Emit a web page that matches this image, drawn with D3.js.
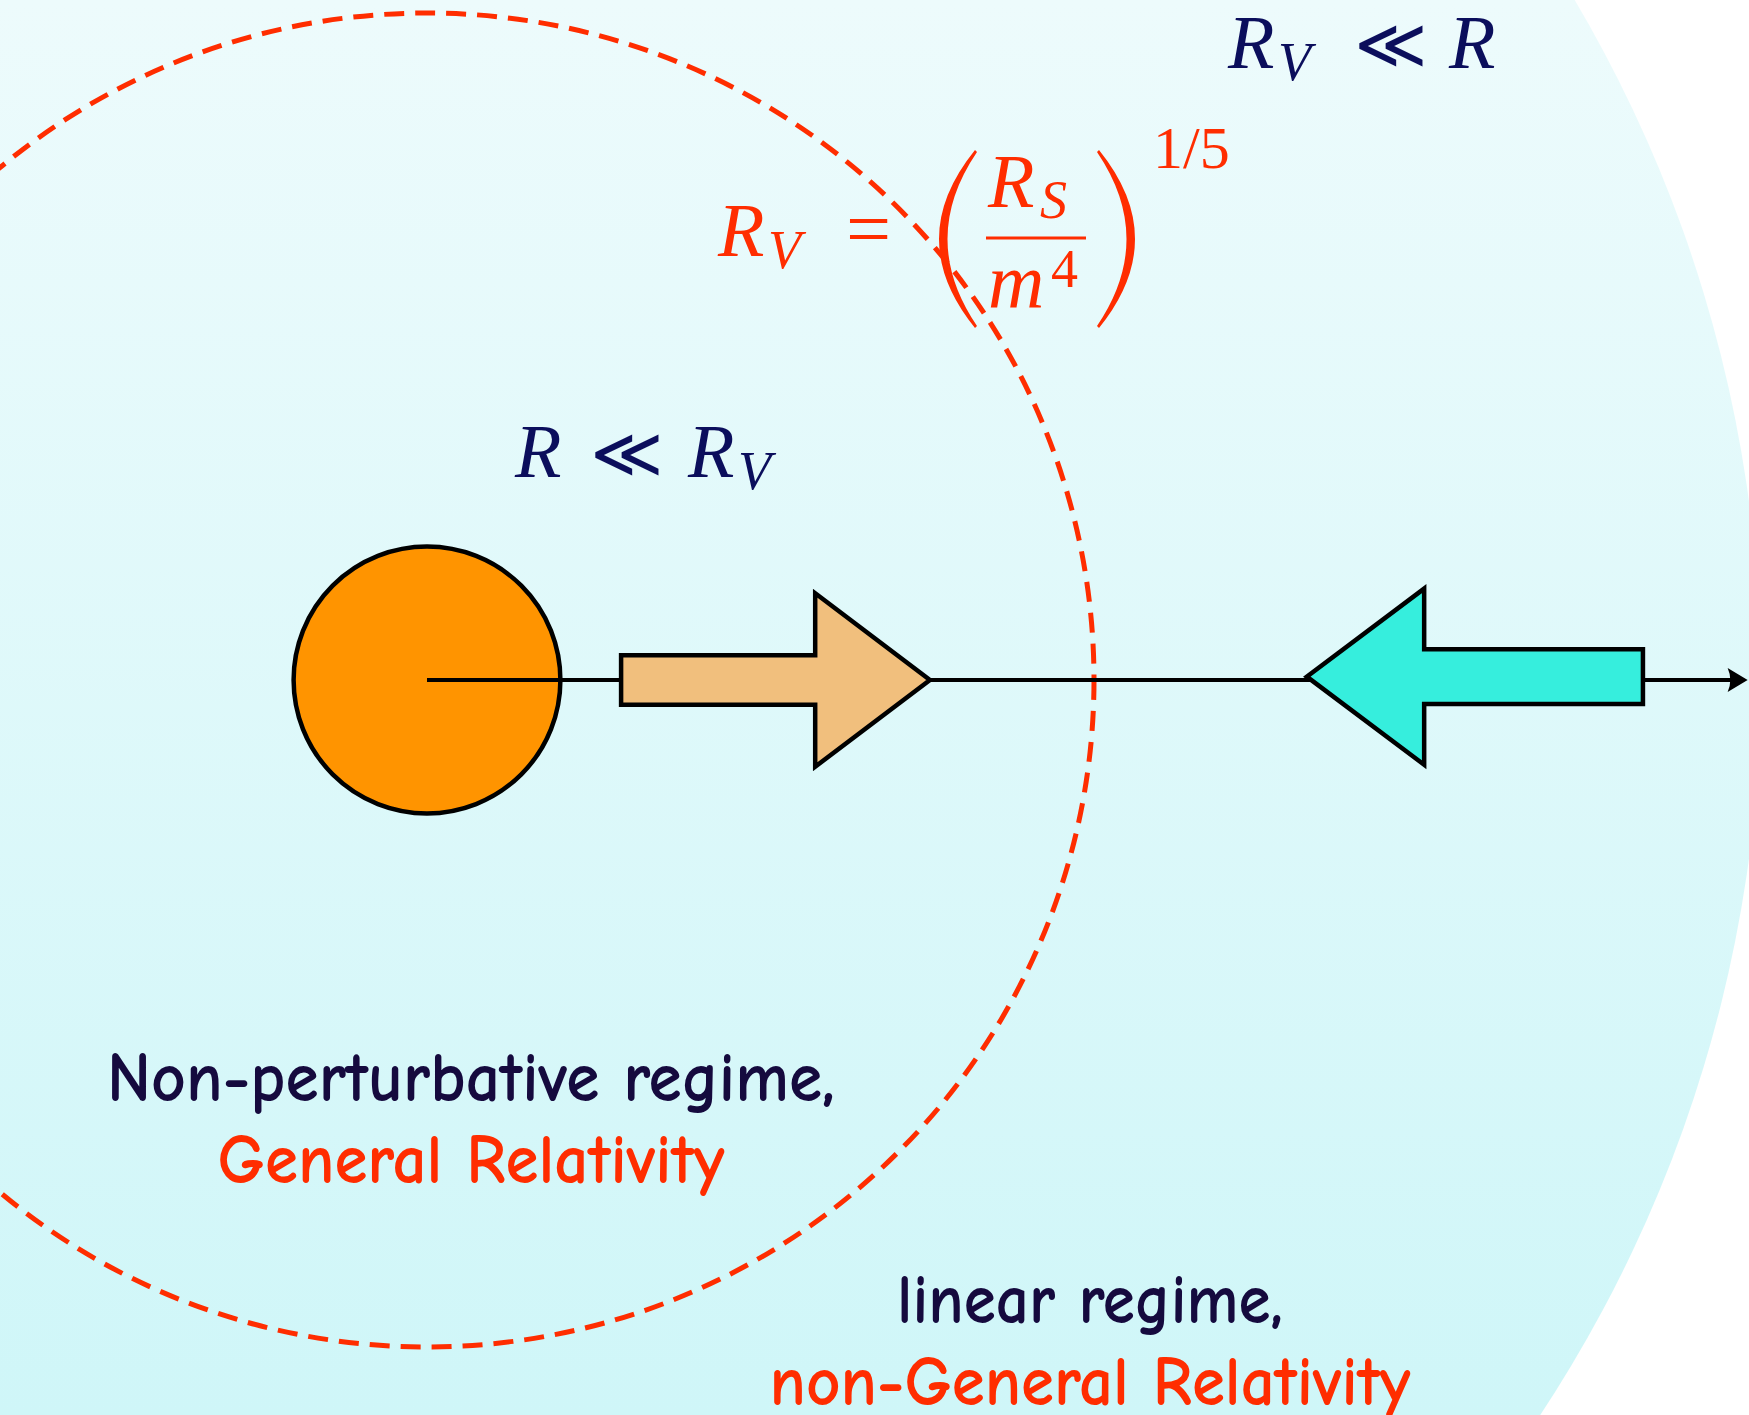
<!DOCTYPE html>
<html lang="en">
<head>
    <meta charset="UTF-8">
    <title>Vainshtein radius</title>
    <script src="https://cdn.jsdelivr.net/npm/d3@7"></script>
    <style>
        body { margin: 0; background: #fff; }
        svg { display: block; }
    </style>
</head>
<body>
<div id="chart-space"></div>
<script>
    // radii in units of the Vainshtein radius R_V
    var regionNames = ["linear", "vainshtein", "body"];
    var regionRadii = [2.0, 1.0, 0.2];

    // the two force arrows along the radial axis (units of R_V)
    var arrowNames = ["outward", "inward"];
    var arrowTail = [0.291, 1.823];
    var arrowNeck = [0.582, 1.495];
    var arrowTip = [0.754, 1.319];
    var arrowShaft = [0.037, 0.041];
    var arrowHead = [0.130, 0.132];
    var arrowLift = [0, 0.005];
    var arrowFill = ["#f1bf7d", "#36eedd"];

    var axisEnd = 1.98;

    var regimeLabels = ["Non-perturbative regime,", "linear regime,"];
    var theoryLabels = ["General Relativity", "non-General Relativity"];
    var regimeWidths = [728, 386];
    var theoryWidths = [507, 641];

    var width = 1749;
    var height = 1415;

    var x = d3.scaleLinear().domain([0, 1]).range([427, 1094]);
    var y = d3.scaleLinear().domain([-1, 1]).range([680 + 667, 680 - 667]);
    var r = d3.scaleLinear().domain([0, 1]).range([0, 667]);

    var navy = "#0b0e5c";
    var ink = "#150a3e";
    var red = "#ff2d00";

    var svg = d3.select("#chart-space")
                .append("svg")
                .attr("width", width)
                .attr("height", height);

    var defs = svg.append("defs");
    var grad = defs.append("linearGradient")
                   .attr("id", "sky")
                   .attr("gradientUnits", "userSpaceOnUse")
                   .attr("x1", 0).attr("y1", 0)
                   .attr("x2", 0).attr("y2", height);
    grad.append("stop").attr("offset", 0).attr("stop-color", "#edfbfc");
    grad.append("stop").attr("offset", 1).attr("stop-color", "#cff6f8");

    svg.append("rect").attr("width", width).attr("height", height).attr("fill", "#fff");

    // linear regime region
    svg.append("circle")
       .attr("cx", x(0)).attr("cy", y(0))
       .attr("r", r(regionRadii[0]))
       .attr("fill", "url(#sky)");

    // Vainshtein sphere
    svg.append("circle")
       .attr("cx", x(0)).attr("cy", y(0))
       .attr("r", r(regionRadii[1]))
       .attr("fill", "none")
       .attr("stroke", red)
       .attr("stroke-width", 5)
       .attr("stroke-dasharray", "20 11");

    // the body
    svg.append("circle")
       .attr("cx", x(0)).attr("cy", y(0))
       .attr("r", r(regionRadii[2]))
       .attr("fill", "#ff9400")
       .attr("stroke", "#000")
       .attr("stroke-width", 4.5);

    // radial axis
    svg.append("line")
       .attr("x1", x(0)).attr("y1", y(0))
       .attr("x2", x(axisEnd) - 6).attr("y2", y(0))
       .attr("stroke", "#000")
       .attr("stroke-width", 4);

    var tipX = x(axisEnd), a = r(0.018);
    svg.append("path")
       .attr("d", "M" + tipX + "," + y(0) +
                  " L" + (tipX - r(0.03)) + "," + (y(0) - a) +
                  " Q" + (tipX - r(0.022)) + "," + y(0) + " " + (tipX - r(0.03)) + "," + (y(0) + a) + " Z")
       .attr("fill", "#000");

    // force arrows
    var arrows = arrowNames.map(function(n, i) {
        return {name: n, tail: arrowTail[i], neck: arrowNeck[i], tip: arrowTip[i],
                s: arrowShaft[i], h: arrowHead[i], lift: arrowLift[i], fill: arrowFill[i]};
    });

    svg.selectAll("polygon.arrow")
       .data(arrows)
       .join("polygon")
       .attr("class", "arrow")
       .attr("points", function(d) {
           var pts = [[d.tail, d.s], [d.neck, d.s], [d.neck, d.h], [d.tip, 0],
                      [d.neck, -d.h], [d.neck, -d.s], [d.tail, -d.s]];
           return pts.map(function(p) { return x(p[0]) + "," + y(p[1] + d.lift); }).join(" ");
       })
       .attr("fill", function(d) { return d.fill; })
       .attr("stroke", "#000")
       .attr("stroke-width", 4.5)
       .attr("stroke-linejoin", "miter");

    // helper for math pieces
    function label(px, py, str, size, italic, color, family) {
        return svg.append("text")
                  .attr("x", px).attr("y", py)
                  .attr("font-family", family || "Liberation Serif, Times New Roman, serif")
                  .attr("font-style", italic ? "italic" : "normal")
                  .attr("font-size", size)
                  .attr("fill", color)
                  .text(str);
    }

    // R_V << R (top right)
    label(1228, 68, "R", 76, true, navy);
    label(1278, 80, "V", 54, true, navy);
    label(1391, 68, "\u226A", 70, false, navy, "DejaVu Sans").attr("text-anchor", "middle");
    label(1449, 68, "R", 76, true, navy);

    // R << R_V (inside)
    label(515, 477, "R", 76, true, navy);
    label(627, 477, "\u226A", 70, false, navy, "DejaVu Sans").attr("text-anchor", "middle");
    label(688, 477, "R", 76, true, navy);
    label(738, 489, "V", 54, true, navy);

    // R_V = (R_S / m^4)^{1/5}
    label(718, 256, "R", 76, true, red);
    label(768, 268, "V", 54, true, red);
    label(846, 256, "=", 80, false, red);
    label(988, 207, "R", 76, true, red);
    label(1040, 218, "S", 54, true, red);
    label(988, 308, "m", 78, true, red);
    label(1051, 287, "4", 54, false, red);
    label(1153, 168, "1/5", 60, false, red);

    svg.append("line")
       .attr("x1", 986).attr("x2", 1086)
       .attr("y1", 238).attr("y2", 238)
       .attr("stroke", red).attr("stroke-width", 3);

    // big parentheses
    svg.append("path")
       .attr("d", "M975,150 Q903,239 975,328 L977,326 Q918,239 977,152 Z")
       .attr("fill", red);
    svg.append("path")
       .attr("d", "M1099,150 Q1171,239 1099,328 L1097,326 Q1156,239 1097,152 Z")
       .attr("fill", red);

    // regime captions
    var font = "Comic Sans MS, Comic Neue, Lato, sans-serif";
    var capX = [471, 1090];
    var capY = [1101, 1323];

    svg.selectAll("text.regime")
       .data(regimeLabels)
       .join("text")
       .attr("class", "regime")
       .attr("x", function(d, i) { return capX[i]; })
       .attr("y", function(d, i) { return capY[i]; })
       .attr("text-anchor", "middle")
       .attr("font-family", font)
       .attr("font-weight", "bold")
       .attr("font-size", 70)
       .attr("textLength", function(d, i) { return regimeWidths[i]; })
       .attr("lengthAdjust", "spacingAndGlyphs")
       .attr("fill", ink)
       .text(function(d) { return d; });

    svg.selectAll("text.theory")
       .data(theoryLabels)
       .join("text")
       .attr("class", "theory")
       .attr("x", function(d, i) { return capX[i]; })
       .attr("y", function(d, i) { return capY[i] + 82; })
       .attr("text-anchor", "middle")
       .attr("font-family", font)
       .attr("font-weight", "bold")
       .attr("font-size", 70)
       .attr("textLength", function(d, i) { return theoryWidths[i]; })
       .attr("lengthAdjust", "spacingAndGlyphs")
       .attr("fill", red)
       .text(function(d) { return d; });
</script>
</body>
</html>
